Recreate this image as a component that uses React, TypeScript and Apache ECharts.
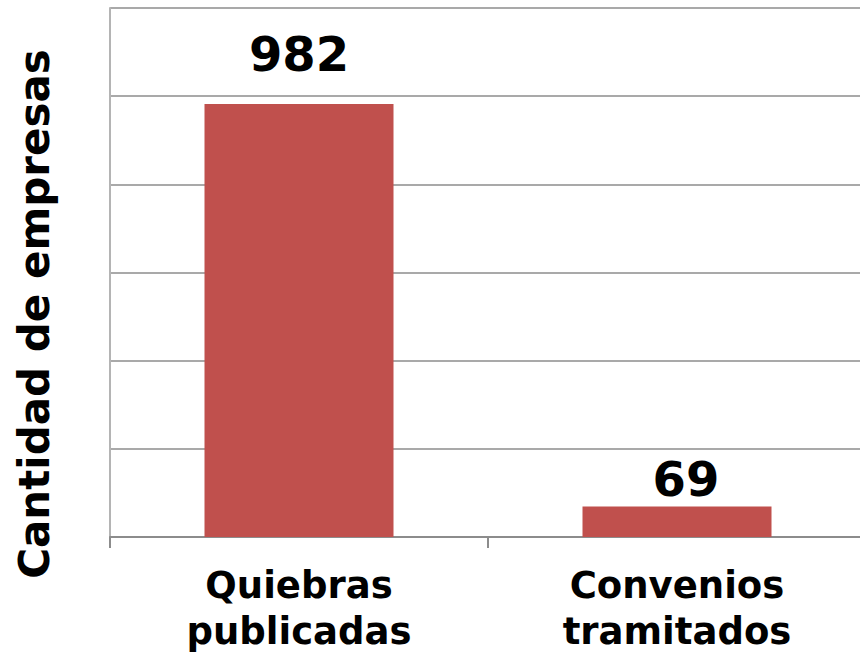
import React, { useEffect, useRef } from "react";
import * as echarts from "echarts";

const categories = ["Quiebras\npublicadas", "Convenios\ntramitados"];
const values = [982, 69];
const yAxisTitle = "Cantidad de empresas";

export default function App() {
  const ref = useRef<HTMLDivElement>(null);
  useEffect(() => {
    if (!ref.current) return;
    const chart = echarts.init(ref.current, null, { renderer: "svg" });
    chart.setOption({
      animation: false,
      backgroundColor: "#ffffff",
      grid: { left: 110, top: 8, bottom: 116, right: -6, outerBoundsMode: "none", containLabel: false },
      xAxis: {
        type: "category",
        data: categories,
        axisLine: { lineStyle: { color: "#8c8c8c", width: 2 } },
        axisTick: { show: true, alignWithLabel: false, length: 11, lineStyle: { color: "#8c8c8c", width: 2 } },
        axisLabel: {
          color: "#000",
          fontFamily: "DejaVu Sans",
          fontWeight: "bold",
          fontSize: 37,
          lineHeight: 46,
          margin: 25,
        },
      },
      yAxis: {
        type: "value",
        min: 0,
        max: 1200,
        interval: 200,
        axisLabel: { show: false },
        axisTick: { show: false },
        axisLine: { show: true, lineStyle: { color: "#b4b4b4", width: 2 } },
        splitLine: { lineStyle: { color: "#8c8c8c", width: 1.5 } },
      },
      graphic: [
        {
          type: "text",
          x: 34,
          y: 314,
          rotation: Math.PI / 2,
          style: {
            text: yAxisTitle,
            fill: "#000",
            font: "bold 42px 'DejaVu Sans'",
            textAlign: "center",
            textVerticalAlign: "middle",
          },
        },
      ],
      series: [
        {
          type: "bar",
          data: [
            { value: values[0], label: { distance: 26 } },
            { value: values[1], label: { distance: 4, offset: [9, 0] } },
          ],
          barWidth: "50%",
          itemStyle: { color: "#c0504d" },
          label: {
            show: true,
            position: "top",
            color: "#000",
            fontFamily: "DejaVu Sans",
            fontWeight: "bold",
            fontSize: 48,
          },
        },
      ],
    });
    return () => chart.dispose();
  }, []);
  return (
    <div
      ref={ref}
      style={{ position: "fixed", left: 0, top: 0, width: 860, height: 653 }}
    />
  );
}
